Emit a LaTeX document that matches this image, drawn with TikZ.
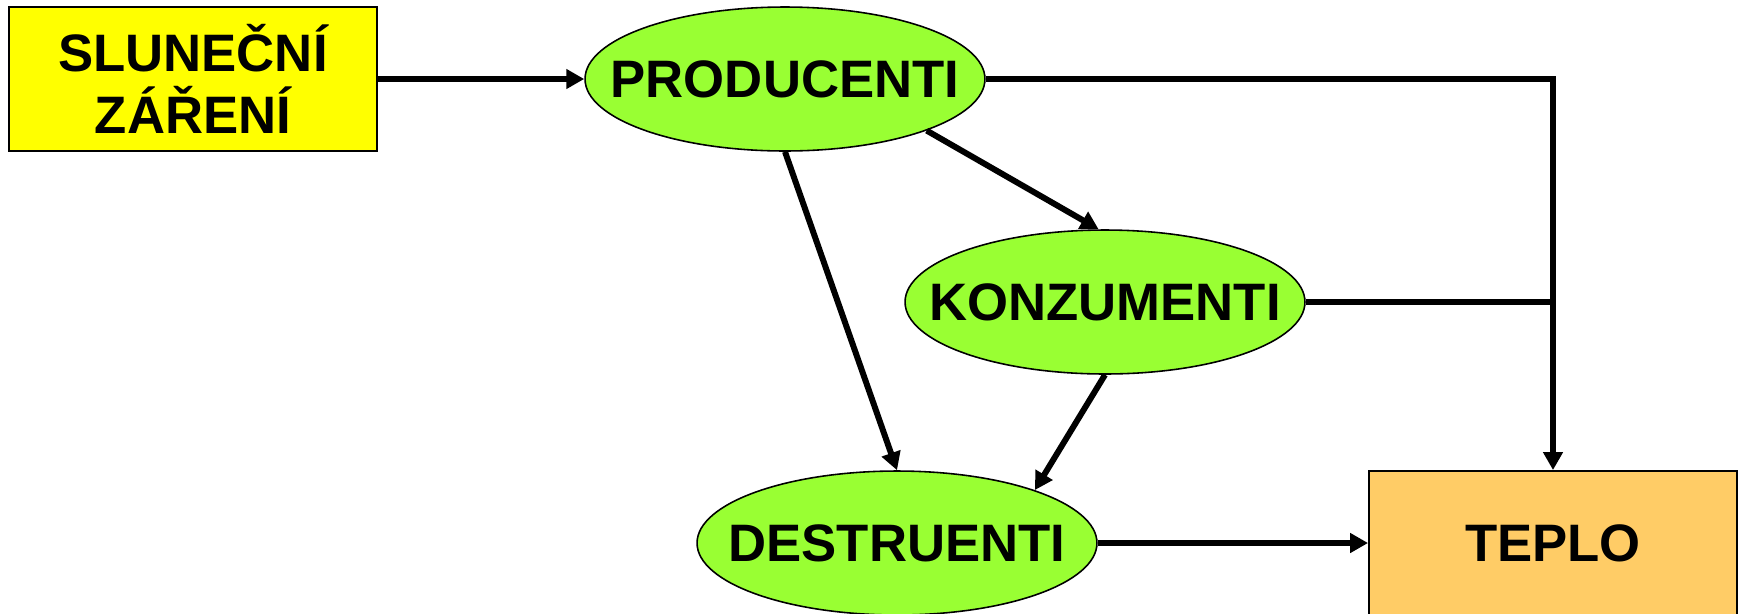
\documentclass[tikz,border=0pt]{standalone}
\usepackage{fontspec}
\setmainfont{Liberation Sans}
\usetikzlibrary{arrows.meta, shapes.geometric}
\definecolor{csun}{HTML}{FFFF00}
\definecolor{clive}{HTML}{99FF33}
\definecolor{cheat}{HTML}{FFCC66}
\tikzset{
  every picture/.style={font=\bfseries\fontsize{30}{35}\selectfont},
  box/.style={draw=black, fill=#1, line width=1.1pt, minimum width=7.36cm, minimum height=2.88cm, align=center, inner sep=0pt},
  box/.default=cheat,
  organism/.style={ellipse, draw=black, fill=clive, line width=0.9pt, minimum width=8cm, minimum height=2.88cm, inner sep=0pt},
  arrow/.style={-{Triangle[length=3.6mm, width=3.8mm]}, line width=3.4pt},
  link/.style={line width=3.4pt},
}

\begin{document}
\begin{tikzpicture}[x=0.02cm, y=-0.02cm]
  \useasboundingbox (0,0) rectangle (1741,613);
  % boxes and trophic levels
  \node[box=csun] (sun) at (193,79) {SLUNEČNÍ\\ZÁŘENÍ};
  \node[organism] (prod) at (785,79) {\makebox[0pt]{PRODUCENTI}};
  \node[organism] (kon) at (1105,302) {\makebox[0pt]{KONZUMENTI}};
  \node[organism] (des) at (897,543) {\makebox[0pt]{DESTRUENTI}};
  \node[box] (heat) at (1553,543) {TEPLO};
  \coordinate (join) at (heat.north |- kon);
  % flows
  \draw[arrow] (sun) -- (prod);
  \draw[arrow] (prod) -| (heat);
  \draw[link] (kon) -- (join);
  \draw[arrow] (prod.-20) -- (kon.95);
  \draw[arrow] (prod.south) -- (des.north);
  \draw[arrow] (kon.south) -- (des.21);
  \draw[arrow] (des) -- (heat);
\end{tikzpicture}
\end{document}
